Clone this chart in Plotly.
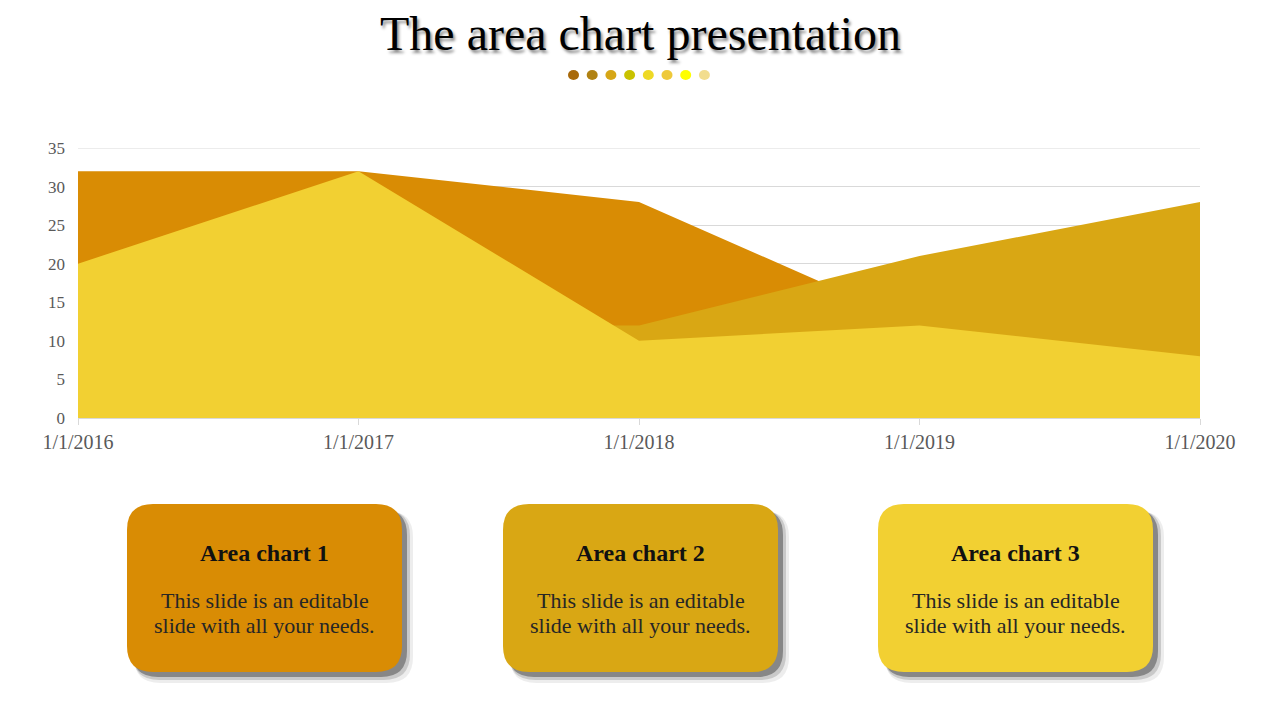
import plotly.graph_objects as go

# ---- data ----
categories = ["1/1/2016", "1/1/2017", "1/1/2018", "1/1/2019", "1/1/2020"]
series1 = [32, 32, 28, 12, 12]
series2 = [12, 12, 12, 21, 28]
series3 = [20, 32, 10, 12, 8]
series_colors = ["#D98C04", "#D9A714", "#F2D032"]
y_ticks = [0, 5, 10, 15, 20, 25, 30, 35]

title_text = "The area chart presentation"
dot_colors = ["#A8690A", "#B08212", "#D6A616", "#C9C200", "#EED925", "#EEC93A", "#FFFF00", "#F2DD8E"]
box_titles = ["Area chart 1", "Area chart 2", "Area chart 3"]
box_body_lines = ["This slide is an editable", "slide with all your needs."]

FONT = "Liberation Serif"

# page geometry (the page body has an 8px margin)
OFF = 8
W, H = 1280 - OFF, 720 - OFF
# plot-area in page pixel coords
PL, PR, PT, PB = 78, 1200, 148, 418


def px(x):
    return (x - PL) / (PR - PL)


def py(y):
    return (PB - y) / (PB - PT)


def rrect(x0, y0, x1, y1, r):
    pts = [
        f"M {px(x0 + r)} {py(y0)}",
        f"L {px(x1 - r)} {py(y0)}",
        f"Q {px(x1)} {py(y0)} {px(x1)} {py(y0 + r)}",
        f"L {px(x1)} {py(y1 - r)}",
        f"Q {px(x1)} {py(y1)} {px(x1 - r)} {py(y1)}",
        f"L {px(x0 + r)} {py(y1)}",
        f"Q {px(x0)} {py(y1)} {px(x0)} {py(y1 - r)}",
        f"L {px(x0)} {py(y0 + r)}",
        f"Q {px(x0)} {py(y0)} {px(x0 + r)} {py(y0)}",
        "Z",
    ]
    return " ".join(pts)


fig = go.Figure()
for vals, col, name in zip([series1, series2, series3], series_colors, ["Series 1", "Series 2", "Series 3"]):
    fig.add_trace(go.Scatter(
        x=categories, y=vals, mode="lines", fill="tozeroy",
        fillcolor=col, line=dict(width=0, color=col), name=name,
        hoverinfo="x+y",
    ))

shapes = []
annotations = []

# top gridline (plotly skips gridlines on the range edge)
shapes.append(dict(
    type="line", xref="paper", yref="y", x0=0, x1=1, y0=y_ticks[-1], y1=y_ticks[-1],
    line=dict(color="#D9D9D9", width=1), layer="below",
))

# title
annotations.append(dict(
    text=title_text, x=px(640), y=py(34), xref="paper", yref="paper",
    xanchor="center", yanchor="middle", showarrow=False,
    font=dict(family=FONT, size=48, color="#000000", shadow="2px 3px 3px rgba(0,0,0,0.45)"),
))

# dots
dot_x0 = 573.5
dot_step = 18.7
for i, c in enumerate(dot_colors):
    cx = dot_x0 + i * dot_step
    shapes.append(dict(
        type="circle", xref="paper", yref="paper",
        x0=px(cx - 5.5), x1=px(cx + 5.5), y0=py(75 + 5), y1=py(75 - 5),
        fillcolor=c, line=dict(width=0),
    ))

# boxes
box_lefts = [127, 503, 878]
bw, by0, by1 = 275, 504, 672
for i, (bx, t) in enumerate(zip(box_lefts, box_titles)):
    for off, grow, op in [(9, 2, 0.07), (7, 1, 0.15), (5, 0, 0.33)]:
        shapes.append(dict(
            type="path", xref="paper", yref="paper",
            path=rrect(bx + off - grow, by0 + off - grow, bx + bw + off + grow, by1 + off + grow, 26),
            fillcolor=f"rgba(0,0,0,{op})", line=dict(width=0), layer="above",
        ))
    shapes.append(dict(
        type="path", xref="paper", yref="paper",
        path=rrect(bx, by0, bx + bw, by1, 26),
        fillcolor=series_colors[i], line=dict(width=0), layer="above",
    ))
    cx = bx + bw / 2
    annotations.append(dict(
        text=f"<b>{t}</b>", x=px(cx), y=py(553), xref="paper", yref="paper",
        xanchor="center", yanchor="middle", showarrow=False,
        font=dict(family=FONT, size=24, color="#111111"),
    ))
    for line_text, ly in zip(box_body_lines, [600, 625]):
        annotations.append(dict(
            text=line_text, x=px(cx), y=py(ly), xref="paper", yref="paper",
            xanchor="center", yanchor="middle", showarrow=False,
            font=dict(family=FONT, size=22, color="#262626"),
        ))

fig.update_layout(
    width=W, height=H,
    margin=dict(l=PL - OFF, r=W - (PR - OFF), t=PT - OFF, b=H - (PB - OFF), pad=0),
    paper_bgcolor="white", plot_bgcolor="white",
    showlegend=False,
    shapes=shapes, annotations=annotations,
    xaxis=dict(
        type="category", range=[0, 4], showgrid=False, zeroline=False,
        showline=True, linecolor="#D9D9D9", linewidth=1,
        ticks="outside", ticklen=6, tickcolor="#D9D9D9",
        tickfont=dict(family=FONT, size=20, color="#595959"),
        fixedrange=True,
    ),
    yaxis=dict(
        range=[0, 35], tickvals=y_ticks, showgrid=True, gridcolor="#D9D9D9",
        zeroline=False, showline=False, ticks="", ticklabelstandoff=12,
        tickfont=dict(family=FONT, size=17, color="#595959"),
        fixedrange=True,
    ),
)

fig.write_html("out.html")
